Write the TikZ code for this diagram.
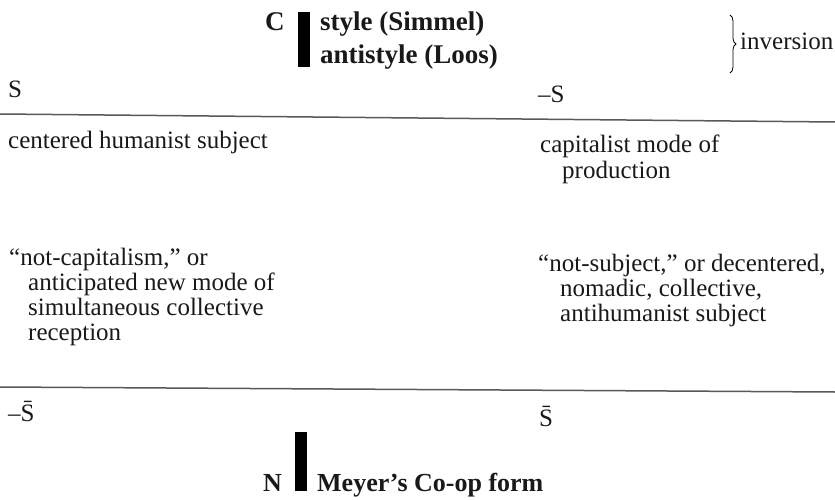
\documentclass[tikz,border=0pt]{standalone}
\usepackage{fontspec}
\setmainfont{Liberation Serif}
\usetikzlibrary{decorations.pathreplacing}
\begin{document}
\begin{tikzpicture}[x=1pt,y=-1pt,
  txt/.style={anchor=base west,inner sep=0pt,font=\fontsize{25}{25}\selectfont,align=left,text=black!90},
  bld/.style={anchor=base west,inner sep=0pt,font=\fontsize{27}{32}\selectfont\bfseries,text=black!90},
  bldb/.style={bld,font=\fontsize{26}{30}\selectfont\bfseries},
  bar/.style={fill=black,draw=none},
  rule/.style={draw=black!65,line width=1.5pt}]
\useasboundingbox (0,0) rectangle (835,500);
% top label
\node[bld] (C) at (265,31) {C};
\fill[bar] (298,12) rectangle (310,67);
\node[bld] (sty) at (320,31) {style (Simmel)};
\node[bld] (anti) at (320,64) {antistyle (Loos)};
\coordinate (bt) at (730,15);
\coordinate (bb) at (730,73);
\draw[line width=0.8pt,decorate,decoration={brace,amplitude=6pt}] (bt) -- (bb);
\node[txt] (inv) at (740,50) {inversion};
% corner labels
\node[txt] (S) at (8,98) {S};
\node[txt] (mS) at (538,103) {–S};
\coordinate (l1a) at (0,114);
\coordinate (l1b) at (835,122);
\draw[rule] (l1a) -- (l1b);
\node[txt] (chs) at (8,148) {centered humanist subject};
\node[txt] (cmp) at (540,178) {capitalist mode of\\\hspace*{22pt}production};
\node[txt] (ncap) at (9,340) {“not-capitalism,” or\\\hspace*{19pt}anticipated new mode of\\\hspace*{19pt}simultaneous collective\\\hspace*{19pt}reception};
\node[txt] (nsub) at (538,321) {“not-subject,” or decentered,\\\hspace*{22pt}nomadic, collective,\\\hspace*{22pt}antihumanist subject};
\coordinate (l2a) at (0,387);
\coordinate (l2b) at (835,392);
\draw[rule] (l2a) -- (l2b);
\node[txt] (mSb) at (8,421) {–\={S}};
\node[txt] (Sb) at (539,426) {\={S}};
% bottom label
\node[bldb] (N) at (263,491) {N};
\fill[bar] (295,432) rectangle (307,491);
\node[bldb] (mey) at (317,491) {Meyer’s Co-op form};
\end{tikzpicture}
\end{document}
